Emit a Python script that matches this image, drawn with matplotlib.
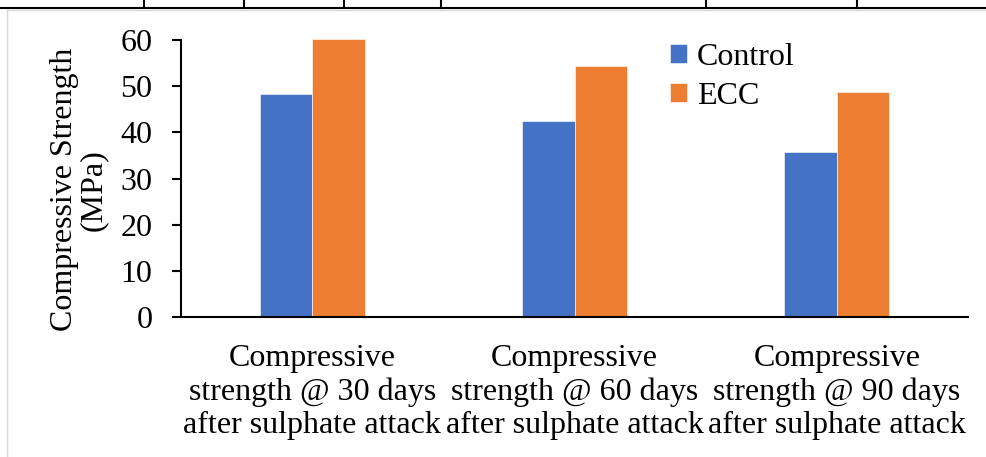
import numpy as np
import matplotlib.pyplot as plt
from matplotlib.lines import Line2D

plt.rcParams['font.family'] = ['Liberation Serif', 'DejaVu Serif']

# Compressive strength after sulphate attack (MPa)
categories = ["Compressive\nstrength @ 30 days\nafter sulphate attack",
              "Compressive\nstrength @ 60 days\nafter sulphate attack",
              "Compressive\nstrength @ 90 days\nafter sulphate attack"]
control = [48.3, 42.5, 35.7]
ecc = [60.3, 54.3, 48.8]

FS = 23
W, H = 986, 457
fig = plt.figure(figsize=(W / 100, H / 100), dpi=100)
ax = fig.add_axes([181 / W, 1 - 317.3 / H, (968 - 181) / W, (317.3 - 40) / H])

x = np.arange(len(categories))
bw = 0.2
ax.bar(x - bw / 2, control, bw, color="#4472C4", edgecolor="white", linewidth=0.4,
       label="Control", clip_on=False, zorder=2)
ax.bar(x + bw / 2, ecc, bw, color="#ED7D31", edgecolor="white", linewidth=0.4,
       label="ECC", clip_on=False, zorder=2)

ax.set_xlim(-0.5, 2.5)
ax.set_ylim(0, 60)
ax.set_yticks(np.arange(0, 61, 10))
ax.set_xticks(x)
ax.set_xticklabels(categories, fontsize=FS, linespacing=1.2)
ax.tick_params(axis="x", length=0, pad=19)
ax.tick_params(axis="y", length=6.5, width=1.5, labelsize=FS, pad=14)

for s in ["top", "right"]:
    ax.spines[s].set_visible(False)
ax.spines["left"].set_linewidth(1.5)
ax.spines["bottom"].set_linewidth(1.5)

ax.set_ylabel("Compressive Strength\n(MPa)", fontsize=FS, linespacing=1.0)
ax.yaxis.set_label_coords(-0.093, 0.46)

ax.legend(loc="upper left", bbox_to_anchor=(0.605, 1.035), frameon=False,
          fontsize=FS, handlelength=0.55, handleheight=0.55, handletextpad=0.3,
          labelspacing=0.3, borderaxespad=0)

# table border above the chart and the chart frame
def px_line(xs, ys, **kw):
    fig.add_artist(Line2D([v / W for v in xs], [1 - v / H for v in ys], **kw))

px_line([0, W], [8, 8], color="black", lw=1.5)
for xv in [144, 244, 344, 441, 706, 857]:
    px_line([xv, xv], [0, 8], color="black", lw=1.5)
px_line([7, W], [10, 10], color="#d9d9d9", lw=1)
px_line([7, 7], [10, H], color="#d9d9d9", lw=1)

fig.savefig("out.png", dpi=100)
